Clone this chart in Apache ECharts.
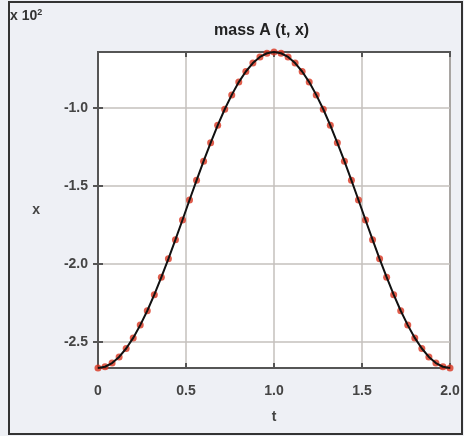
<!DOCTYPE html>
<html><head><meta charset="utf-8">
<script src="https://cdn.jsdelivr.net/npm/echarts@6/dist/echarts.min.js"></script>
<style>html,body{margin:0;padding:0;background:#eef0f5}#c{width:464px;height:436px}</style>
</head><body><div id="c"></div>
<script>
const tValues = [0,0.04,0.08,0.12,0.16,0.2,0.24,0.28,0.32,0.36,0.4,0.44,0.48,0.52,0.56,0.6,0.64,0.68,0.72,0.76,0.8,0.84,0.88,0.92,0.96,1.0,1.04,1.08,1.12,1.16,1.2,1.24,1.28,1.32,1.36,1.4,1.44,1.48,1.52,1.56,1.6,1.64,1.68,1.72,1.76,1.8,1.84,1.88,1.92,1.96,2.0];
const xValues = [-2.667,-2.659,-2.635,-2.596,-2.542,-2.474,-2.392,-2.300,-2.197,-2.085,-1.967,-1.844,-1.718,-1.590,-1.464,-1.341,-1.223,-1.111,-1.008,-0.916,-0.834,-0.766,-0.712,-0.673,-0.649,-0.641,-0.649,-0.673,-0.712,-0.766,-0.834,-0.916,-1.008,-1.111,-1.223,-1.341,-1.464,-1.590,-1.718,-1.844,-1.967,-2.085,-2.197,-2.300,-2.392,-2.474,-2.542,-2.596,-2.635,-2.659,-2.667];
const xTicks = [0,0.5,1.0,1.5,2.0];
const xTickLabels = ['0','0.5','1.0','1.5','2.0'];
const yTicks = [-2.5,-2.0,-1.5,-1.0];
const yTickLabels = ['-2.5','-2.0','-1.5','-1.0'];
const titleText = 'mass A (t, x)';
const xName = 't';
const yName = 'x';

const pts = tValues.map((t,i)=>[t,xValues[i]]);
const chart = echarts.init(document.getElementById('c'), null, {renderer:'canvas'});
const labelStyle = {color:'#444', fontSize:14, fontWeight:'bold', fontFamily:'Liberation Sans, Arial, sans-serif'};
const boxLine = {show:true, lineStyle:{color:'#555', width:2}};
const tickStyle = {show:true, inside:true, length:5, lineStyle:{color:'#555', width:2}};
chart.setOption({
  backgroundColor:'#eef0f5',
  animation:false,
  title:{text:titleText, left:209, top:18, textStyle:{fontSize:16, fontWeight:'bold', color:'#222', fontFamily:'Liberation Sans, Arial, sans-serif'}},
  grid:{left:98, top:52, right:14, bottom:68, show:true, backgroundColor:'#ffffff', borderColor:'#555', borderWidth:2},
  xAxis:[{type:'value', min:0, max:2, position:'bottom', name:xName, nameLocation:'middle', nameGap:42,
    nameTextStyle:labelStyle,
    axisLine:boxLine,
    axisTick:{...tickStyle, customValues:xTicks},
    axisLabel:{margin:16, customValues:xTicks, formatter:v=>xTickLabels[xTicks.findIndex(a=>Math.abs(a-v)<1e-9)], ...labelStyle},
    splitLine:{show:true, lineStyle:{color:'#c4c0bc', width:1.5}}},
   {type:'value', min:0, max:2, position:'top',
    axisLine:boxLine,
    axisTick:{...tickStyle, customValues:xTicks},
    axisLabel:{show:false},
    splitLine:{show:false}}],
  yAxis:[{type:'value', min:-2.667, max:-0.641, position:'left', name:yName, nameLocation:'middle', nameGap:58, nameRotate:0,
    nameTextStyle:labelStyle,
    axisLine:boxLine,
    axisTick:{...tickStyle, customValues:yTicks},
    axisLabel:{margin:10, customValues:yTicks, formatter:v=>yTickLabels[yTicks.findIndex(a=>Math.abs(a-v)<1e-9)], ...labelStyle},
    splitLine:{show:true, lineStyle:{color:'#c4c0bc', width:1.5}}},
   {type:'value', min:-2.667, max:-0.641, position:'right',
    axisLine:boxLine,
    axisTick:{...tickStyle, customValues:yTicks},
    axisLabel:{show:false},
    splitLine:{show:false}}],
  graphic:[
    {type:'rect', shape:{x:9, y:2, width:453, height:432}, style:{fill:null, stroke:'#333', lineWidth:2}, z:100},
    {type:'text', left:10, top:8, style:{text:'{a|x 10}{s|2}', rich:{a:{fontSize:14, fontWeight:'bold', fill:'#333', fontFamily:'Liberation Sans, Arial, sans-serif'}, s:{fontSize:9, fontWeight:'bold', fill:'#333', verticalAlign:'top', padding:[0,0,8,0]}}}}
  ],
  series:[
    {type:'scatter', data:pts, symbol:'circle', symbolSize:7, itemStyle:{color:'#d8351f'}, z:2},
    {type:'line', data:pts, showSymbol:false, smooth:false, lineStyle:{color:'#111', width:2}, z:3}
  ]
});
</script></body></html>
